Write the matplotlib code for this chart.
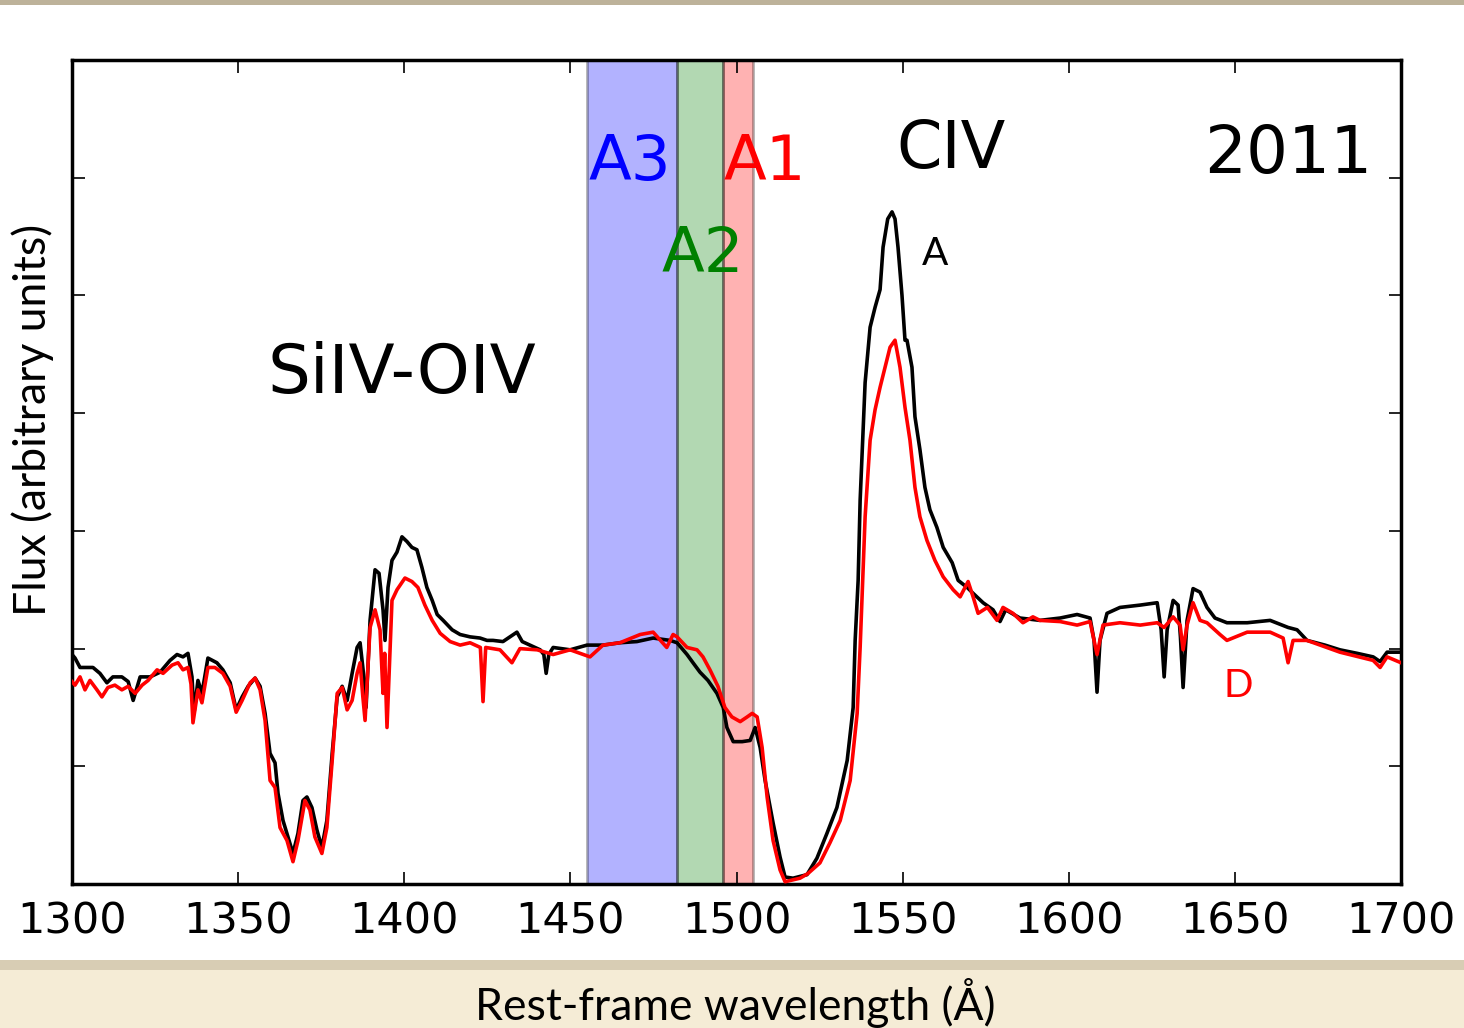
import numpy as np
import matplotlib
matplotlib.use("Agg")
import matplotlib.pyplot as plt
from matplotlib.patches import Rectangle

# spectrum A (2011, black) - rest-frame wavelength (A) and flux (arbitrary)
wave_a = [1300.0, 1300.9, 1302.4, 1304.5, 1306.3, 1308.4, 1310.5, 1312.3, 1315.0, 1316.9,
          1318.4, 1320.5, 1323.5, 1326.5, 1329.5, 1331.6, 1333.4, 1334.9, 1336.1, 1336.7,
          1337.9, 1339.1, 1340.9, 1343.6, 1345.4, 1347.6, 1349.4, 1351.2, 1353.0, 1355.1,
          1356.6, 1358.1, 1359.6, 1361.1, 1362.0, 1363.5, 1365.0, 1366.5, 1368.0, 1369.5,
          1370.7, 1372.2, 1373.7, 1375.2, 1376.7, 1378.3, 1379.8, 1381.3, 1382.8, 1384.3,
          1385.8, 1386.7, 1387.6, 1388.5, 1389.7, 1391.2, 1392.4, 1393.6, 1394.2, 1395.1,
          1396.3, 1397.8, 1399.3, 1400.8, 1402.3, 1403.8, 1405.3, 1406.8, 1408.4, 1409.9,
          1411.7, 1414.4, 1416.8, 1419.8, 1422.8, 1424.9, 1426.7, 1429.7, 1433.9, 1435.5,
          1437.8, 1440.9, 1442.0, 1442.7, 1443.5, 1444.8, 1449.9, 1455.0, 1459.8, 1464.9,
          1470.0, 1474.9, 1480.0, 1482.1, 1485.1, 1486.9, 1489.0, 1491.4, 1494.1, 1496.0,
          1497.1, 1499.0, 1501.7, 1504.1, 1505.6, 1507.1, 1508.6, 1511.0, 1513.1, 1514.6,
          1517.0, 1521.2, 1524.2, 1527.2, 1530.2, 1533.3, 1535.1, 1535.7, 1536.6, 1537.2,
          1538.7, 1540.2, 1541.7, 1542.3, 1543.2, 1544.1, 1545.5, 1546.8, 1547.7, 1548.6,
          1549.8, 1550.7, 1551.3, 1552.8, 1553.7, 1555.2, 1556.7, 1558.2, 1560.3, 1562.2,
          1564.9, 1566.7, 1569.4, 1571.2, 1574.2, 1577.2, 1579.3, 1581.0, 1585.3, 1591.3,
          1597.4, 1602.5, 1606.4, 1607.6, 1608.5, 1609.4, 1611.5, 1615.4, 1621.5, 1626.6,
          1627.8, 1628.7, 1629.6, 1631.4, 1632.9, 1633.6, 1634.4, 1635.6, 1637.4, 1639.5,
          1641.6, 1644.0, 1647.6, 1653.7, 1660.6, 1666.0, 1668.7, 1671.7, 1677.1, 1681.6,
          1686.8, 1691.6, 1693.7, 1695.8, 1700.0]
flux_a = [1.95, 1.92, 1.84, 1.84, 1.84, 1.79, 1.71, 1.76, 1.76, 1.72,
          1.56, 1.76, 1.76, 1.80, 1.90, 1.95, 1.93, 1.96, 1.76, 1.45,
          1.73, 1.62, 1.92, 1.88, 1.82, 1.71, 1.48, 1.59, 1.68, 1.75,
          1.68, 1.45, 1.11, 1.03, 0.77, 0.54, 0.40, 0.26, 0.43, 0.71,
          0.74, 0.65, 0.46, 0.31, 0.54, 1.11, 1.59, 1.68, 1.56, 1.79,
          2.01, 2.05, 1.82, 1.50, 2.24, 2.67, 2.64, 2.33, 2.07, 2.52,
          2.75, 2.82, 2.95, 2.91, 2.86, 2.84, 2.69, 2.52, 2.41, 2.29,
          2.24, 2.16, 2.12, 2.10, 2.09, 2.07, 2.07, 2.06, 2.14, 2.06,
          2.03, 1.99, 1.95, 1.79, 1.95, 2.01, 1.99, 2.03, 2.03, 2.05,
          2.06, 2.09, 2.07, 2.05, 1.95, 1.88, 1.80, 1.73, 1.62, 1.50,
          1.33, 1.21, 1.21, 1.22, 1.33, 1.16, 0.88, 0.52, 0.23, 0.06,
          0.05, 0.08, 0.22, 0.43, 0.65, 1.05, 1.50, 2.07, 2.58, 3.26,
          4.26, 4.73, 4.90, 4.96, 5.05, 5.41, 5.65, 5.71, 5.65, 5.41,
          5.00, 4.62, 4.62, 4.39, 3.97, 3.69, 3.37, 3.18, 3.03, 2.86,
          2.73, 2.58, 2.52, 2.47, 2.39, 2.33, 2.23, 2.33, 2.26, 2.24,
          2.26, 2.29, 2.26, 2.07, 1.63, 2.07, 2.30, 2.35, 2.37, 2.39,
          2.16, 1.76, 2.16, 2.41, 2.37, 2.10, 1.67, 2.24, 2.51, 2.48,
          2.35, 2.26, 2.22, 2.22, 2.24, 2.18, 2.16, 2.07, 2.03, 1.99,
          1.96, 1.93, 1.89, 1.97, 1.97]

# spectrum D (red)
wave_d = [1300.0, 1300.9, 1302.4, 1303.9, 1305.4, 1307.5, 1309.0, 1310.8, 1312.9, 1315.0,
          1316.9, 1319.0, 1321.1, 1322.9, 1325.6, 1327.4, 1330.1, 1331.9, 1333.4, 1334.9,
          1335.8, 1336.4, 1337.9, 1339.1, 1340.9, 1343.0, 1345.4, 1347.6, 1349.4, 1351.2,
          1353.6, 1355.1, 1356.6, 1358.1, 1359.6, 1361.1, 1362.6, 1364.7, 1366.5, 1368.0,
          1370.1, 1371.6, 1373.1, 1375.2, 1376.7, 1378.3, 1379.8, 1381.3, 1382.8, 1384.3,
          1385.8, 1386.7, 1387.5, 1388.2, 1389.7, 1391.2, 1392.7, 1393.6, 1394.1, 1394.8,
          1396.3, 1397.8, 1400.2, 1402.3, 1404.1, 1406.2, 1408.4, 1410.8, 1413.8, 1416.8,
          1419.8, 1422.9, 1423.7, 1424.5, 1428.8, 1432.4, 1434.8, 1440.0, 1444.8, 1449.9,
          1455.9, 1459.8, 1464.9, 1471.0, 1474.9, 1479.0, 1480.9, 1482.1, 1485.1, 1488.1,
          1489.9, 1492.0, 1494.4, 1496.5, 1498.6, 1501.1, 1503.2, 1504.7, 1506.2, 1507.7,
          1509.2, 1511.0, 1513.1, 1514.6, 1519.1, 1521.5, 1525.1, 1528.1, 1531.2, 1534.2,
          1536.3, 1537.2, 1538.7, 1540.2, 1541.7, 1543.2, 1544.7, 1546.2, 1547.7, 1549.2,
          1550.7, 1552.2, 1553.7, 1555.2, 1557.3, 1559.7, 1562.2, 1565.2, 1567.3, 1569.7,
          1571.2, 1572.7, 1575.5, 1578.4, 1580.2, 1583.2, 1586.2, 1589.2, 1591.3, 1597.4,
          1602.5, 1606.4, 1608.5, 1610.3, 1615.4, 1621.5, 1626.6, 1628.7, 1631.4, 1633.5,
          1634.4, 1635.6, 1637.4, 1639.5, 1641.6, 1645.5, 1647.6, 1653.7, 1660.6, 1664.5,
          1666.0, 1667.5, 1671.7, 1681.6, 1691.6, 1693.7, 1695.8, 1700.0]
flux_d = [1.72, 1.69, 1.76, 1.65, 1.73, 1.65, 1.59, 1.67, 1.69, 1.65,
          1.68, 1.62, 1.69, 1.73, 1.82, 1.79, 1.86, 1.88, 1.82, 1.84,
          1.70, 1.37, 1.65, 1.54, 1.84, 1.84, 1.79, 1.68, 1.46, 1.56,
          1.71, 1.75, 1.65, 1.39, 0.88, 0.82, 0.48, 0.37, 0.19, 0.37,
          0.71, 0.63, 0.40, 0.26, 0.48, 1.05, 1.62, 1.67, 1.48, 1.56,
          1.79, 1.88, 1.60, 1.39, 2.18, 2.33, 2.16, 1.62, 1.96, 1.33,
          2.41, 2.50, 2.60, 2.57, 2.52, 2.37, 2.24, 2.13, 2.06, 2.03,
          2.05, 2.01, 1.55, 2.01, 1.99, 1.88, 2.00, 1.99, 1.95, 1.99,
          1.93, 2.03, 2.05, 2.12, 2.14, 2.01, 2.12, 2.10, 2.01, 1.99,
          1.93, 1.82, 1.68, 1.50, 1.42, 1.38, 1.42, 1.45, 1.42, 1.16,
          0.74, 0.37, 0.12, 0.02, 0.05, 0.09, 0.18, 0.35, 0.54, 0.88,
          1.45, 2.01, 3.12, 3.77, 4.03, 4.22, 4.39, 4.56, 4.62, 4.39,
          4.05, 3.77, 3.37, 3.12, 2.92, 2.75, 2.61, 2.50, 2.44, 2.57,
          2.44, 2.30, 2.35, 2.24, 2.35, 2.30, 2.22, 2.27, 2.24, 2.23,
          2.20, 2.23, 1.95, 2.20, 2.22, 2.20, 2.22, 2.18, 2.27, 2.20,
          1.99, 2.20, 2.39, 2.24, 2.22, 2.12, 2.07, 2.14, 2.14, 2.09,
          1.88, 2.07, 2.07, 1.97, 1.90, 1.84, 1.93, 1.88]

# absorption windows
band_names = ["A3", "A2", "A1"]
band_lo = [1455, 1482, 1496]
band_hi = [1482, 1496, 1505]
band_colors = ["blue", "green", "red"]

fig = plt.figure(figsize=(14.64, 10.28), dpi=100, facecolor="#f5ecd6")
# white slide panel behind the plot
fig.patches.append(Rectangle((0, 0.066), 1, 0.929, transform=fig.transFigure,
                             facecolor="white", edgecolor="none", zorder=-1))
fig.patches.append(Rectangle((0, 0.995), 1, 0.005, transform=fig.transFigure,
                             facecolor="#bdb29a", edgecolor="none", zorder=-1))
fig.patches.append(Rectangle((0, 0.056), 1, 0.010, transform=fig.transFigure,
                             facecolor="#d8cdb4", edgecolor="none", zorder=-1))

ax = fig.add_axes([0.0492, 0.140, 0.9078, 0.8016])

for lo, hi, c in zip(band_lo, band_hi, band_colors):
    ax.axvspan(lo, hi, facecolor=c, edgecolor="black", linewidth=2, alpha=0.3, zorder=1)

ax.plot(wave_a, flux_a, color="black", lw=2.6, zorder=3)
ax.plot(wave_d, flux_d, color="red", lw=2.6, zorder=4)

ax.set_xlim(1300, 1700)
ax.set_ylim(0, 7)
ax.set_xticks(np.arange(1300, 1701, 50))
ax.set_yticks(np.arange(0, 8, 1))
ax.set_yticklabels([])
ax.tick_params(direction="in", length=9, width=1.2, top=True, right=True,
               labelsize=31, pad=12)
for sp in ax.spines.values():
    sp.set_linewidth(2.5)

# labels inside the plot
ax.text(1399.2, 4.17, "SiIV-OIV", fontsize=48.5, ha="center", va="baseline")
ax.text(1564.6, 6.08, "CIV", fontsize=47, ha="center", va="baseline")
ax.text(1666.1, 6.04, "2011", fontsize=47.5, ha="center", va="baseline")
ax.text(1468.0, 5.98, band_names[0], fontsize=45, ha="center", va="baseline", color="blue")
ax.text(1489.9, 5.20, band_names[1], fontsize=45, ha="center", va="baseline", color="green")
ax.text(1508.4, 5.98, band_names[2], fontsize=45, ha="center", va="baseline", color="red")
ax.text(1559.7, 5.26, "A", fontsize=28, ha="center", va="baseline", family="Lato")
ax.text(1651.1, 1.59, "D", fontsize=28, ha="center", va="baseline", family="Lato", color="red")

fig.text(0.0225, 0.5914, "Flux (arbitrary units)", rotation=90, fontsize=32,
         ha="center", va="center", family="Lato")
fig.text(0.502, 0.024, "Rest-frame wavelength (Å)", fontsize=32,
         ha="center", va="center", family="Lato")

fig.savefig("out.png", dpi=100, facecolor=fig.get_facecolor())
